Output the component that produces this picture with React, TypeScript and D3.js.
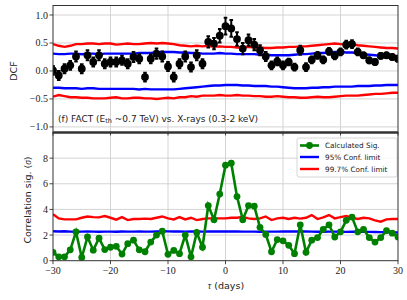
import React from "react";
import * as d3 from "d3";

// lags in days
const lags = d3.range(-30, 31);

// DCF, top panel
const dcf = [
  0.01, -0.08, 0.04, 0.1, 0.26, 0.04, 0.28, 0.16, 0.28, 0.13, 0.16,
  0.16, 0.19, 0.13, 0.25, 0.22, -0.11, 0.22, 0.31, 0.26, 0.08,
  -0.11, 0.13, 0.26, 0.07, 0.28, 0.13, 0.52, 0.49, 0.63, 0.8,
  0.76, 0.57, 0.4, 0.55, 0.47, 0.37, 0.26, 0.1, 0.17, 0.1,
  0.16, 0.07, 0.37, 0.07, 0.2, 0.28, 0.2, 0.35, 0.27, 0.34,
  0.47, 0.48, 0.34, 0.28, 0.19, 0.16, 0.27, 0.28, 0.25, 0.22,
];
const dcfErr = [
  0.08, 0.08, 0.08, 0.08, 0.09, 0.08, 0.09, 0.08, 0.09, 0.08, 0.08,
  0.08, 0.08, 0.08, 0.09, 0.08, 0.08, 0.08, 0.09, 0.09, 0.08,
  0.08, 0.08, 0.09, 0.08, 0.09, 0.08, 0.1, 0.1, 0.12, 0.15,
  0.15, 0.12, 0.1, 0.1, 0.1, 0.09, 0.08, 0.07, 0.07, 0.07,
  0.06, 0.06, 0.08, 0.07, 0.06, 0.06, 0.06, 0.06, 0.06, 0.06,
  0.07, 0.07, 0.06, 0.05, 0.05, 0.05, 0.05, 0.05, 0.05, 0.05,
];
const dcf95Up = [
  0.31, 0.3, 0.3, 0.31, 0.31, 0.3, 0.31, 0.31, 0.3, 0.31, 0.31,
  0.31, 0.31, 0.31, 0.31, 0.32, 0.32, 0.32, 0.33, 0.34, 0.34,
  0.34, 0.33, 0.33, 0.32, 0.32, 0.31, 0.31, 0.31, 0.32, 0.31,
  0.31, 0.3, 0.3, 0.3, 0.3, 0.29, 0.29, 0.28, 0.28, 0.28,
  0.28, 0.29, 0.3, 0.3, 0.31, 0.32, 0.32, 0.33, 0.34, 0.34,
  0.33, 0.33, 0.32, 0.3, 0.29, 0.28, 0.27, 0.27, 0.26, 0.25,
];
const dcf997Up = [
  0.48, 0.45, 0.43, 0.45, 0.48, 0.48, 0.49, 0.49, 0.48, 0.49, 0.49,
  0.47, 0.48, 0.49, 0.48, 0.48, 0.49, 0.5, 0.49, 0.5, 0.49,
  0.48, 0.46, 0.45, 0.44, 0.45, 0.44, 0.45, 0.43, 0.44, 0.43,
  0.43, 0.42, 0.42, 0.43, 0.42, 0.42, 0.41, 0.41, 0.42, 0.42,
  0.43, 0.43, 0.44, 0.44, 0.45, 0.46, 0.47, 0.48, 0.49, 0.48,
  0.47, 0.48, 0.46, 0.45, 0.44, 0.43, 0.42, 0.41, 0.41, 0.4,
];
const dcf95Lo = [
  -0.3, -0.3, -0.31, -0.31, -0.31, -0.32, -0.31, -0.31, -0.32, -0.32, -0.32,
  -0.32, -0.32, -0.32, -0.32, -0.33, -0.32, -0.33, -0.33, -0.33, -0.33,
  -0.33, -0.32, -0.31, -0.3, -0.29, -0.28, -0.27, -0.26, -0.26, -0.25,
  -0.25, -0.25, -0.26, -0.26, -0.27, -0.27, -0.27, -0.28, -0.28, -0.29,
  -0.3, -0.31, -0.31, -0.31, -0.3, -0.3, -0.29, -0.29, -0.28, -0.28,
  -0.28, -0.28, -0.27, -0.27, -0.27, -0.26, -0.26, -0.25, -0.25, -0.25,
];
const dcf997Lo = [
  -0.46, -0.43, -0.45, -0.47, -0.47, -0.48, -0.48, -0.49, -0.49, -0.49, -0.48,
  -0.47, -0.49, -0.49, -0.48, -0.48, -0.49, -0.49, -0.5, -0.49, -0.48,
  -0.49, -0.47, -0.47, -0.45, -0.46, -0.44, -0.44, -0.44, -0.43, -0.44,
  -0.44, -0.43, -0.44, -0.44, -0.45, -0.45, -0.46, -0.46, -0.45, -0.46,
  -0.47, -0.47, -0.48, -0.48, -0.47, -0.46, -0.47, -0.47, -0.46, -0.45,
  -0.44, -0.44, -0.44, -0.43, -0.42, -0.41, -0.41, -0.4, -0.39, -0.39,
];

// correlation significance, bottom panel
const sig = [
  0.65, 0.3, 0.3, 0.85, 2.25, 0.25, 1.85, 0.82, 1.75, 0.87, 1.05,
  1.12, 0.52, 1.33, 1.6, 0.85, 0.7, 1.45, 2.0, 2.3, 0.5,
  0.8, 0.55, 2.0, 0.3, 2.2, 1.05, 4.3, 3.2, 5.2, 7.45,
  7.6, 5.0, 3.2, 4.3, 4.25, 2.6, 2.05, 0.7, 1.65, 1.55,
  1.2, 0.55, 2.8, 0.65, 1.6, 1.8, 2.45, 2.8, 1.85, 2.25,
  3.15, 3.4, 2.25, 2.45, 1.8, 1.45, 1.8, 2.35, 2.15, 1.85,
];
const sig95 = [
  2.3, 2.28, 2.3, 2.27, 2.26, 2.27, 2.28, 2.27, 2.26, 2.27, 2.27,
  2.26, 2.28, 2.27, 2.27, 2.28, 2.27, 2.27, 2.28, 2.3, 2.29,
  2.28, 2.28, 2.27, 2.28, 2.28, 2.27, 2.28, 2.28, 2.28, 2.28,
  2.28, 2.28, 2.27, 2.27, 2.27, 2.26, 2.27, 2.27, 2.27, 2.28,
  2.28, 2.28, 2.29, 2.28, 2.27, 2.26, 2.26, 2.27, 2.27, 2.26,
  2.25, 2.26, 2.26, 2.26, 2.25, 2.24, 2.23, 2.22, 2.21, 2.2,
];
const sig997 = [
  3.63, 3.3, 3.22, 3.22, 3.22, 3.35, 3.45, 3.4, 3.38, 3.48, 3.35,
  3.2, 3.4, 3.17, 3.25, 3.25, 3.28, 3.25, 3.35, 3.45, 3.3,
  3.22, 3.4, 3.22, 3.35, 3.17, 3.25, 3.3, 3.3, 3.3, 3.3,
  3.35, 3.35, 3.42, 3.3, 3.25, 3.3, 3.45, 3.17, 3.3, 3.35,
  3.25, 3.35, 3.28, 3.35, 3.56, 3.25, 3.38, 3.56, 3.3, 3.4,
  3.48, 3.35, 3.25, 3.35, 3.3, 3.15, 3.04, 3.22, 3.25, 3.25,
];

const xTicks = [-30, -20, -10, 0, 10, 20, 30];
const dcfTicks = [-1.0, -0.5, 0.0, 0.5, 1.0];
const sigTicks = [0, 2, 4, 6, 8];

const W = 407;
const H = 300;
const left = 53;
const right = 398;
const topY0 = 5.5;
const midY = 132.5;
const botY1 = 260.7;

const serif = "'Liberation Serif', 'DejaVu Serif', serif";
const sans = "'DejaVu Sans', sans-serif";
const GRID = "#cfcfcf";
const AX = "#333";

export default function App() {
  const x = d3.scaleLinear().domain([-30, 30]).range([left, right]);
  const yTop = d3.scaleLinear().domain([-1.1, 1.17]).range([midY, topY0]);
  const yBot = d3.scaleLinear().domain([0, 10]).range([botY1, midY]);
  const fmt = d3.format(".1f");
  const fmtX = d3.format("d");

  const lineTop = (vals: number[]) =>
    d3.line<number>().x((_, i) => x(lags[i])).y((v) => yTop(v))(vals) || "";
  const lineBot = (vals: number[]) =>
    d3.line<number>().x((_, i) => x(lags[i])).y((v) => yBot(v))(vals) || "";

  return (
    <svg width={W} height={H} style={{ position: "absolute", left: 0, top: 0 }}>
      <rect width={W} height={H} fill="white" />
      <defs>
        <clipPath id="cTop">
          <rect x={left} y={topY0} width={right - left} height={midY - topY0} />
        </clipPath>
        <clipPath id="cBot">
          <rect x={left} y={midY} width={right - left} height={botY1 - midY} />
        </clipPath>
      </defs>

      {/* grids */}
      <g stroke={GRID} strokeWidth={0.9}>
        {xTicks.slice(1, -1).map((t) => (
          <g key={"gx" + t}>
            <line x1={x(t)} x2={x(t)} y1={topY0} y2={midY} />
            <line x1={x(t)} x2={x(t)} y1={midY} y2={botY1} />
          </g>
        ))}
        {dcfTicks.map((t) => (
          <line key={"gy" + t} x1={left} x2={right} y1={yTop(t)} y2={yTop(t)} />
        ))}
        {sigTicks.slice(1).map((t) => (
          <line key={"gs" + t} x1={left} x2={right} y1={yBot(t)} y2={yBot(t)} />
        ))}
      </g>

      {/* top panel */}
      <g clipPath="url(#cTop)" fill="none" strokeWidth={2.4}>
        <path d={lineTop(dcf95Up)} stroke="#0000ff" />
        <path d={lineTop(dcf95Lo)} stroke="#0000ff" />
        <path d={lineTop(dcf997Up)} stroke="#ff0000" />
        <path d={lineTop(dcf997Lo)} stroke="#ff0000" />
        {dcf.map((v, i) => (
          <g key={"e" + i} stroke="black" strokeWidth={2}>
            <line x1={x(lags[i])} x2={x(lags[i])} y1={yTop(v - dcfErr[i])} y2={yTop(v + dcfErr[i])} />
            <line x1={x(lags[i]) - 1.8} x2={x(lags[i]) + 1.8} y1={yTop(v - dcfErr[i])} y2={yTop(v - dcfErr[i])} />
            <line x1={x(lags[i]) - 1.8} x2={x(lags[i]) + 1.8} y1={yTop(v + dcfErr[i])} y2={yTop(v + dcfErr[i])} />
          </g>
        ))}
        {dcf.map((v, i) => (
          <circle key={"p" + i} cx={x(lags[i])} cy={yTop(v)} r={3.9} fill="black" stroke="none" />
        ))}
      </g>
      <text x={58} y={121.5} fontFamily={sans} fontSize={9} fill="#222">
        (f) FACT (E<tspan fontSize={6.5} dy={1.5}>th</tspan>
        <tspan dy={-1.5}> ~0.7 TeV) vs. X-rays (0.3-2 keV)</tspan>
      </text>

      {/* bottom panel */}
      <g clipPath="url(#cBot)" fill="none" strokeWidth={2.4}>
        <path d={lineBot(sig95)} stroke="#0000ff" />
        <path d={lineBot(sig997)} stroke="#ff0000" />
        <path d={lineBot(sig)} stroke="#008000" strokeWidth={2.6} />
        {sig.map((v, i) => (
          <circle key={"s" + i} cx={x(lags[i])} cy={yBot(v)} r={3.4} fill="#008000" stroke="none" />
        ))}
      </g>

      {/* legend */}
      <g>
        <rect x={297} y={138} width={100} height={39} rx={2} fill="white" fillOpacity={0.85} stroke="#ccc" strokeWidth={0.8} />
        <line x1={300} x2={319} y1={145.5} y2={145.5} stroke="#008000" strokeWidth={2.6} />
        <circle cx={309.5} cy={145.5} r={3.4} fill="#008000" />
        <line x1={300} x2={319} y1={157} y2={157} stroke="#0000ff" strokeWidth={2.4} />
        <line x1={300} x2={319} y1={169} y2={169} stroke="#ff0000" strokeWidth={2.4} />
        <g fontFamily={sans} fontSize={7.3} fill="#222">
          <text x={325} y={148.2}>Calculated Sig.</text>
          <text x={325} y={159.7}>95% Conf. limit</text>
          <text x={325} y={171.7}>99.7% Conf. limit</text>
        </g>
      </g>

      {/* frames */}
      <g fill="none" stroke={AX} strokeWidth={1}>
        <rect x={left} y={topY0} width={right - left} height={midY - topY0} />
        <rect x={left} y={midY} width={right - left} height={botY1 - midY} />
        <line x1={left} x2={right} y1={midY} y2={midY} strokeWidth={2.4} />
      </g>

      {/* ticks and labels */}
      <g stroke={AX} strokeWidth={0.9}>
        {dcfTicks.map((t) => (
          <line key={"ty" + t} x1={left - 3.5} x2={left} y1={yTop(t)} y2={yTop(t)} />
        ))}
        {sigTicks.map((t) => (
          <line key={"ts" + t} x1={left - 3.5} x2={left} y1={yBot(t)} y2={yBot(t)} />
        ))}
        {xTicks.map((t) => (
          <g key={"tx" + t}>
            <line x1={x(t)} x2={x(t)} y1={botY1} y2={botY1 + 3.5} />
            <line x1={x(t)} x2={x(t)} y1={midY} y2={midY + 3} />
          </g>
        ))}
      </g>
      <g fontFamily={serif} fontSize={10} fill="#222">
        {dcfTicks.map((t) => (
          <text key={"ly" + t} x={48} y={yTop(t) + 3.5} textAnchor="end">
            {fmt(t)}
          </text>
        ))}
        {sigTicks.map((t) => (
          <text key={"ls" + t} x={48} y={yBot(t) + 3.5} textAnchor="end">
            {t}
          </text>
        ))}
        {xTicks.map((t) => (
          <text key={"lx" + t} x={x(t)} y={274} textAnchor="middle">
            {fmtX(t)}
          </text>
        ))}
      </g>

      {/* axis titles */}
      <text transform="translate(17,71) rotate(-90)" textAnchor="middle" fontFamily={sans} fontSize={9.5} fill="#222">
        DCF
      </text>
      <text transform="translate(31,200) rotate(-90)" textAnchor="middle" fontFamily={sans} fontSize={9.5} fill="#222">
        Correlation sig. (<tspan fontFamily={serif} fontStyle="italic">σ</tspan>)
      </text>
      <text x={226} y={289} textAnchor="middle" fontFamily={sans} fontSize={9.5} fill="#222">
        <tspan fontFamily={serif} fontStyle="italic">τ</tspan> (days)
      </text>
    </svg>
  );
}
